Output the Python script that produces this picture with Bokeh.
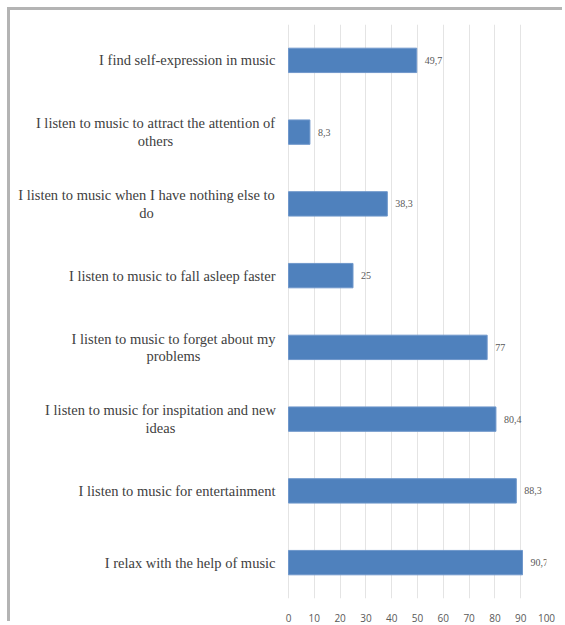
from bokeh.plotting import figure
from bokeh.models import ColumnDataSource, LabelSet, FixedTicker, Range1d
from bokeh.core.properties import value
from bokeh.embed import file_html
from bokeh.resources import INLINE

# Data (bottom to top)
categories = [
    "I relax with the help of music",
    "I listen to music for entertainment",
    "I listen to music for inspitation and new\nideas",
    "I listen to music to forget about my\nproblems",
    "I listen to music to fall asleep faster",
    "I listen to music when I have nothing else to\ndo",
    "I listen to music to attract the attention of\nothers",
    "I find self-expression in music",
]
values = [90.7, 88.3, 80.4, 77, 25, 38.3, 8.3, 49.7]
x_ticks = [0, 10, 20, 30, 40, 50, 60, 70, 80, 90, 100]

# ---- layout constants (pixels on the canvas) ----
W, H = 555, 614
ZERO_PX = 278          # canvas x of value 0
RIGHT_BORDER = 19
FULL_PX = W - RIGHT_BORDER  # canvas x of value 100
LABEL_RIGHT_PX = 265   # right edge of category labels
wrap_center_px = {
    categories[2]: 150,
    categories[3]: 163,
    categories[5]: 136,
    categories[6]: 145,
}

px_per_unit = (FULL_PX - ZERO_PX) / 100.0
x_min = -ZERO_PX / px_per_unit


def px_to_x(px):
    return (px - ZERO_PX) / px_per_unit


def fmt(v):
    return ("%g" % v).replace(".", ",")


labels = [fmt(v) for v in values]

source = ColumnDataSource(dict(cat=categories, val=values, lab=labels))

single = [c for c in categories if "\n" not in c]
wrapped = [c for c in categories if "\n" in c]
src_single = ColumnDataSource(dict(cat=single, txt=single,
                                   x=[px_to_x(LABEL_RIGHT_PX)] * len(single)))
src_wrapped = ColumnDataSource(dict(cat=wrapped, txt=wrapped,
                                    x=[px_to_x(wrap_center_px[c]) for c in wrapped]))

p = figure(
    y_range=categories,
    x_range=Range1d(x_min, 100),
    width=W,
    height=H,
    output_backend="svg",
    toolbar_location=None,
    y_axis_location=None,
    min_border_left=0,
    min_border_right=RIGHT_BORDER,
    min_border_top=14,
    min_border_bottom=26,
)
p.styles = {
    "margin-left": "10px",
    "margin-top": "10px",
    "box-shadow": "-3px -3px 0 0 #b4b4b4",
}

p.hbar(y="cat", right="val", left=0, height=0.34, source=source,
       fill_color="#4f81bd", line_color="#6f97cb", line_width=1)

lbl = LabelSet(x="val", y="cat", text="lab", source=source, x_offset=8,
               text_baseline="middle", text_font="Open Sans",
               text_font_size="10px", text_color="#595959")
p.add_layout(lbl)

style = dict(text_font=value("Liberation Serif"), text_font_size="14.5px",
             text_color="#404040", text_baseline="middle",
             text_line_height=1.1)
p.text(x="x", y="cat", text="txt", source=src_single, text_align="right", **style)
p.text(x="x", y="cat", text="txt", source=src_wrapped, text_align="center", **style)

p.outline_line_color = None
p.background_fill_color = "white"
p.border_fill_color = "white"

p.xaxis.ticker = FixedTicker(ticks=x_ticks)
p.xaxis.axis_line_color = None
p.xaxis.major_tick_line_color = None
p.xaxis.minor_tick_line_color = None
p.xaxis.major_label_text_font = "Open Sans"
p.xaxis.major_label_text_font_size = "10px"
p.xaxis.major_label_text_color = "#595959"
p.xaxis.major_label_standoff = 9

p.xgrid.grid_line_color = "#e4e4e4"
p.xgrid.grid_line_width = 1
p.ygrid.grid_line_color = None

open("out.html", "w").write(file_html(p, INLINE))
